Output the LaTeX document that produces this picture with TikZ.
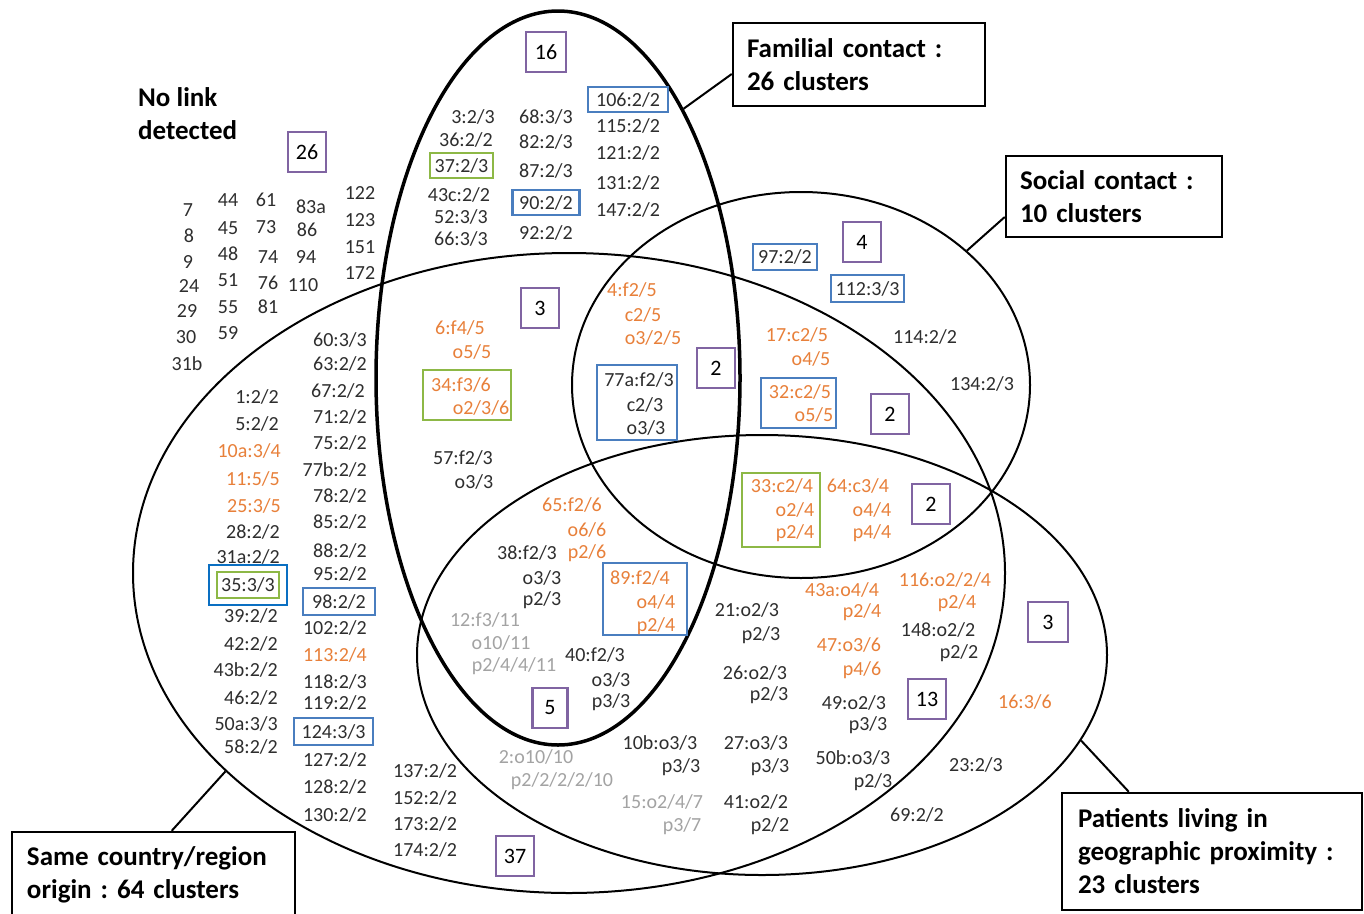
\documentclass[tikz,border=0pt]{standalone}
\usepackage{fontspec}
\setmainfont{Carlito}
\frenchspacing
\usetikzlibrary{shapes.geometric,calc}
\definecolor{txt}{HTML}{2E2E2E}
\definecolor{orng}{HTML}{E8803A}
\definecolor{gry}{HTML}{A3A3A3}
\definecolor{purp}{HTML}{8064A2}
\definecolor{blu}{HTML}{4A7EBF}
\definecolor{bblu}{HTML}{0A6FC2}
\definecolor{grn}{HTML}{8DB846}
\tikzset{
  tx/.style={font=\fontsize{20}{24}\selectfont, text=txt, inner sep=0pt},
  tor/.style={tx, text=orng},
  tgr/.style={tx, text=gry},
  pbox/.style={draw=purp, line width=2.5pt, minimum width=38pt, minimum height=40pt, inner sep=0pt, font=\fontsize{22}{26}\selectfont, text=black},
  bbox/.style={draw=blu, line width=2.5pt, inner sep=0pt},
  gbox/.style={draw=grn, line width=2.5pt, inner sep=0pt},
  lab/.style={draw=black, line width=2.5pt, font=\fontsize{27}{33}\selectfont\bfseries, align=left, inner ysep=0pt, text=black},
  ell/.style={draw=black, ellipse, inner sep=0pt},
  conn/.style={draw=black, line width=2pt},
}
\begin{document}
\begin{tikzpicture}[x=1pt,y=-1pt]
\useasboundingbox (0,0) rectangle (1364,913);
\fill[white] (0,0) rectangle (1364,913);

% ellipses
\node[ell, line width=2pt, minimum width=872pt, minimum height=640pt] (big) at (569,573) {};
\node[ell, line width=2pt, minimum width=458pt, minimum height=386pt] (soc) at (801,385) {};
\node[ell, line width=2pt, minimum width=690pt, minimum height=440pt] (prox) at (762,655) {};
\node[ell, line width=3.5pt, minimum width=364pt, minimum height=734pt] (fam) at (558,378) {};

% label boxes
\node[lab, text width=224pt, inner xsep=14pt, minimum height=83pt] (famlab) at (859,64.5) {Familial contact :\\26 clusters};
\node[lab, text width=188pt, inner xsep=14pt, minimum height=81pt] (soclab) at (1114,196.5) {Social contact :\\10 clusters};
\node[lab, text width=268pt, inner xsep=16pt, minimum height=117pt] (patlab) at (1212,851.5) {Patients living in\\geographic proximity :\\23 clusters};
\node[lab, text width=253pt, inner xsep=15pt, minimum height=86pt] (sclab) at (153.5,875) {Same country/region\\origin : 64 clusters};

\draw[conn] (fam.65) -- ($(famlab.west)+(0,9.5)$);
\draw[conn] (soc.39) -- ($(soclab.west)+(0,20.5)$);
\draw[conn] (prox.345) -- ($(patlab.north west)+(68,0)$);
\draw[conn] (big.210) -- ($(sclab.north west)+(161,0)$);

% no link
\node[font=\fontsize{27}{33}\selectfont\bfseries, anchor=west, inner sep=0pt] (nl1) at (138,97) {No link};
\node[font=\fontsize{27}{33}\selectfont\bfseries, anchor=west, inner sep=0pt] (nl2) at (138,130) {detected};
\node[pbox] (p26) at (307,152) {26};

\node[tx] (a7) at (188,210) {7};
\node[tx] (a8) at (189,236) {8};
\node[tx] (a9) at (188,262) {9};
\node[tx] (a24) at (189,286) {24};
\node[tx] (a29) at (187,311) {29};
\node[tx] (a30) at (186,337) {30};
\node[tx] (a31b) at (187,364) {31b};
\node[tx] (a44) at (228,200) {44};
\node[tx] (a45) at (228,228) {45};
\node[tx] (a48) at (228,254) {48};
\node[tx] (a51) at (228,280) {51};
\node[tx] (a55) at (228,307) {55};
\node[tx] (a59) at (228,333) {59};
\node[tx] (a61) at (266,200) {61};
\node[tx] (a73) at (266,227) {73};
\node[tx] (a74) at (268,257) {74};
\node[tx] (a76) at (268,283) {76};
\node[tx] (a81) at (268,307) {81};
\node[tx] (a83a) at (311,207) {83a};
\node[tx] (a86) at (307,230) {86};
\node[tx] (a94) at (306,257) {94};
\node[tx] (a110) at (303,285) {110};
\node[tx] (a122) at (360,193) {122};
\node[tx] (a123) at (360,220) {123};
\node[tx] (a151) at (360,247) {151};
\node[tx] (a172) at (360,273) {172};

% same country only, left column
\node[tx, anchor=east] (c1) at (279,397) {1:2/2};
\node[tx, anchor=east] (c5) at (279,424) {5:2/2};
\node[tor, anchor=east] (c10a) at (281,451) {10a:3/4};
\node[tor, anchor=east] (c11) at (280,479) {11:5/5};
\node[tor, anchor=east] (c25) at (281,506) {25:3/5};
\node[tx, anchor=east] (c28) at (280,532) {28:2/2};
\node[tx, anchor=east] (c31a) at (280,557) {31a:2/2};
\node[draw=bblu, line width=2.5pt, minimum width=78pt, minimum height=40pt, inner sep=0pt] (c35o) at (248,585) {};
\node[tx, gbox, minimum width=62pt, minimum height=26pt] (c35) at (248,585) {35:3/3};
\node[tx, anchor=east] (c39) at (278,616) {39:2/2};
\node[tx, anchor=east] (c42) at (278,644) {42:2/2};
\node[tx, anchor=east] (c43b) at (278,670) {43b:2/2};
\node[tx, anchor=east] (c46) at (278,698) {46:2/2};
\node[tx, anchor=east] (c50a) at (278,724) {50a:3/3};
\node[tx, anchor=east] (c58) at (278,747) {58:2/2};

\node[tx, anchor=east] (d60) at (367,340) {60:3/3};
\node[tx, anchor=east] (d63) at (367,364) {63:2/2};
\node[tx, anchor=east] (d67) at (365,391) {67:2/2};
\node[tx, anchor=east] (d71) at (367,417) {71:2/2};
\node[tx, anchor=east] (d75) at (367,443) {75:2/2};
\node[tx, anchor=east] (d77b) at (367,470) {77b:2/2};
\node[tx, anchor=east] (d78) at (367,496) {78:2/2};
\node[tx, anchor=east] (d85) at (367,522) {85:2/2};
\node[tx, anchor=east] (d88) at (367,551) {88:2/2};
\node[tx, anchor=east] (d95) at (367,574) {95:2/2};
\node[tx, bbox, minimum width=72pt, minimum height=27pt] (d98) at (339,601.5) {98:2/2};
\node[tx, anchor=east] (d102) at (367,628) {102:2/2};
\node[tor, anchor=east] (d113) at (367,655) {113:2/4};
\node[tx, anchor=east] (d118) at (367,682) {118:2/3};
\node[tx, anchor=east] (d119) at (367,703) {119:2/2};
\node[tx, bbox, minimum width=79pt, minimum height=27pt] (d124) at (333.5,731.5) {124:3/3};
\node[tx, anchor=east] (d127) at (367,760) {127:2/2};
\node[tx, anchor=east] (d128) at (367,787) {128:2/2};
\node[tx, anchor=east] (d130) at (367,815) {130:2/2};

\node[tx] (e137) at (425,771) {137:2/2};
\node[tx] (e152) at (425,798) {152:2/2};
\node[tx] (e173) at (425,824) {173:2/2};
\node[tx] (e174) at (425,850) {174:2/2};
\node[pbox] (p37) at (515,856) {37};

% familial only
\node[pbox, minimum width=40pt] (p16) at (546,52) {16};
\node[tx] (f3) at (473,117) {3:2/3};
\node[tx] (f36) at (466,140) {36:2/2};
\node[tx, gbox, minimum width=63pt, minimum height=25pt] (f37) at (461.5,165.5) {37:2/3};
\node[tx] (f43c) at (459,195) {43c:2/2};
\node[tx] (f52) at (461,217) {52:3/3};
\node[tx] (f66) at (461,239) {66:3/3};
\node[tx] (f68) at (546,117) {68:3/3};
\node[tx] (f82) at (546,142) {82:2/3};
\node[tx] (f87) at (546,171) {87:2/3};
\node[tx, bbox, minimum width=67pt, minimum height=25pt] (f90) at (546,202.5) {90:2/2};
\node[tx] (f92) at (546,233) {92:2/2};
\node[tx, bbox, minimum width=80pt, minimum height=25pt] (f106) at (628,99.5) {106:2/2};
\node[tx] (f115) at (628,126) {115:2/2};
\node[tx] (f121) at (628,153) {121:2/2};
\node[tx] (f131) at (628,183) {131:2/2};
\node[tx] (f147) at (628,210) {147:2/2};

% familial & country
\node[pbox] (p3a) at (540,308) {3};
\node[tor] (g6a) at (460,328) {6:f4/5};
\node[tor] (g6b) at (472,352) {o5/5};
\node[gbox, minimum width=88pt, minimum height=50pt] (g34) at (467,395) {};
\node[tor] (g34a) at (461,385) {34:f3/6};
\node[tor] (g34b) at (481,408) {o2/3/6};
\node[tx] (g57a) at (463,458) {57:f2/3};
\node[tx] (g57b) at (474,482) {o3/3};

% familial & social & country
\node[tor] (h4a) at (632,290) {4:f2/5};
\node[tor] (h4b) at (643,315) {c2/5};
\node[tor] (h4c) at (653,338) {o3/2/5};
\node[bbox, minimum width=80pt, minimum height=75pt] (h77) at (637,402.5) {};
\node[tx] (h77a) at (639,380) {77a:f2/3};
\node[tx] (h77b) at (645,405) {c2/3};
\node[tx] (h77c) at (646,428) {o3/3};
\node[pbox] (p2a) at (716,368) {2};

% social & country
\node[tor] (i17a) at (797,335) {17:c2/5};
\node[tor] (i17b) at (811,359) {o4/5};
\node[bbox, minimum width=75pt, minimum height=50pt] (i32) at (798.5,403) {};
\node[tor] (i32a) at (800,392) {32:c2/5};
\node[tor] (i32b) at (814,415) {o5/5};
\node[pbox] (p2b) at (890,414) {2};

% social only
\node[pbox] (p4) at (862,242) {4};
\node[tx, bbox, minimum width=64pt, minimum height=26pt] (j97) at (785,257) {97:2/2};
\node[tx, bbox, minimum width=73pt, minimum height=27pt] (j112) at (867.5,288.5) {112:3/3};
\node[tx] (j114) at (925,337) {114:2/2};
\node[tx] (j134) at (982,384) {134:2/3};

% social & country & proximity
\node[gbox, minimum width=78pt, minimum height=74pt] (k33) at (781,510) {};
\node[tor] (k33a) at (782,486) {33:c2/4};
\node[tor] (k33b) at (795,510) {o2/4};
\node[tor] (k33c) at (795,533) {p2/4};
\node[tor] (k64a) at (858,486) {64:c3/4};
\node[tor] (k64b) at (872,510) {o4/4};
\node[tor] (k64c) at (872,533) {p4/4};
\node[pbox] (p2c) at (931,504) {2};

% familial & country & proximity
\node[tor] (l65a) at (572,505) {65:f2/6};
\node[tor] (l65b) at (587,530) {o6/6};
\node[tor] (l65c) at (587,553) {p2/6};
\node[tx] (l38a) at (527,553) {38:f2/3};
\node[tx] (l38b) at (542,578) {o3/3};
\node[tx] (l38c) at (542,600) {p2/3};
\node[bbox, minimum width=84pt, minimum height=72pt] (l89) at (645,599) {};
\node[tor] (l89a) at (640,578) {89:f2/4};
\node[tor] (l89b) at (656,602) {o4/4};
\node[tor] (l89c) at (656,626) {p2/4};
\node[tgr] (l12a) at (485,620) {12:f3/11};
\node[tgr] (l12b) at (501,643) {o10/11};
\node[tgr] (l12c) at (514,666) {p2/4/4/11};
\node[tx] (l40a) at (595,655) {40:f2/3};
\node[tx] (l40b) at (611,680) {o3/3};
\node[tx] (l40c) at (611,702) {p3/3};
\node[pbox, minimum width=35pt] (p5) at (550,708) {5};

% country & proximity
\node[tx] (m21a) at (747,610) {21:o2/3};
\node[tx] (m21b) at (761,635) {p2/3};
\node[tor] (m43a) at (842,590) {43a:o4/4};
\node[tor] (m43b) at (862,612) {p2/4};
\node[tor] (m116a) at (945,580) {116:o2/2/4};
\node[tor] (m116b) at (957,603) {p2/4};
\node[tx] (m148a) at (938,630) {148:o2/2};
\node[tx] (m148b) at (959,653) {p2/2};
\node[tor] (m47a) at (849,645) {47:o3/6};
\node[tor] (m47b) at (862,670) {p4/6};
\node[tx] (m26a) at (755,673) {26:o2/3};
\node[tx] (m26b) at (769,695) {p2/3};
\node[tx] (m49a) at (854,703) {49:o2/3};
\node[tx] (m49b) at (868,725) {p3/3};
\node[pbox] (p13) at (927,699) {13};
\node[tx] (m10a) at (660,743) {10b:o3/3};
\node[tx] (m10b) at (681,767) {p3/3};
\node[tx] (m27a) at (756,743) {27:o3/3};
\node[tx] (m27b) at (770,767) {p3/3};
\node[tx] (m50a) at (853,758) {50b:o3/3};
\node[tx] (m50b) at (873,782) {p2/3};
\node[tgr] (m2a) at (536,757) {2:o10/10};
\node[tgr] (m2b) at (562,781) {p2/2/2/2/10};
\node[tgr] (m15a) at (662,802) {15:o2/4/7};
\node[tgr] (m15b) at (682,826) {p3/7};
\node[tx] (m41a) at (756,802) {41:o2/2};
\node[tx] (m41b) at (770,826) {p2/2};

% proximity only
\node[pbox, minimum width=40pt] (p3b) at (1048,622) {3};
\node[tor] (n16) at (1025,702) {16:3/6};
\node[tx] (n23) at (976,765) {23:2/3};
\node[tx] (n69) at (917,815) {69:2/2};
\end{tikzpicture}
\end{document}
